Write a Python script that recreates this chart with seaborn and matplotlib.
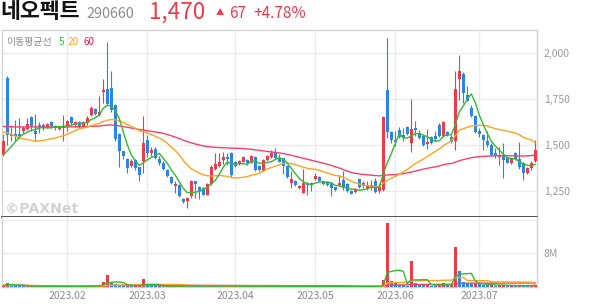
import numpy as np
import pandas as pd
import matplotlib
matplotlib.use("Agg")
import matplotlib.pyplot as plt
import seaborn as sns

# ---------------- data ----------------
stock_name = "네오펙트"
stock_code = "290660"
last_price = "1,470"
change_abs = "67"
change_pct = "+4.78%"

month_ticks = [16, 36, 58, 78, 98, 119]
month_labels = ["2023.02", "2023.03", "2023.04", "2023.05", "2023.06", "2023.07"]
price_ticks = [1250, 1500, 1750, 2000]
volume_ticks = [8, 16]
volume_tick_labels = ["8M", ""]
ma_windows = [5, 20, 60]

opens = [1446, 1862, 1558, 1556, 1560, 1573, 1587, 1651, 1573, 1609,
         1606, 1596, 1622, 1600, 1585, 1591, 1598, 1649, 1605, 1622,
         1595, 1618, 1660, 1694, 1660, 1785, 1800, 1810, 1715, 1560,
         1465, 1422, 1383, 1415, 1377, 1410, 1527, 1455, 1478, 1424,
         1402, 1365, 1325, 1275, 1280, 1205, 1196, 1220, 1301, 1269,
         1265, 1229, 1287, 1368, 1386, 1417, 1433, 1455, 1408, 1395,
         1408, 1417, 1402, 1435, 1384, 1359, 1417, 1435, 1453, 1426,
         1426, 1384, 1290, 1305, 1262, 1240, 1292, 1292, 1316, 1325,
         1301, 1298, 1292, 1269, 1283, 1310, 1287, 1247, 1245, 1314,
         1292, 1260, 1269, 1305, 1247, 1255, 1799, 1569, 1528, 1582,
         1555, 1595, 1510, 1591, 1564, 1546, 1504, 1540, 1546, 1609,
         1546, 1569, 1540, 1519, 1859, 1884, 1772, 1700, 1654, 1576,
         1555, 1519, 1500, 1455, 1432, 1446, 1428, 1401, 1453, 1420,
         1400, 1348, 1372, 1413]

highs = [1558, 1875, 1609, 1636, 1645, 1600, 1645, 1654, 1669, 1622,
         1618, 1618, 1631, 1609, 1600, 1660, 1636, 1654, 1631, 1627,
         1631, 1654, 1712, 1700, 1763, 1857, 2060, 1900, 1720, 1565,
         1468, 1425, 1420, 1420, 1380, 1654, 1550, 1485, 1485, 1440,
         1410, 1370, 1332, 1300, 1285, 1210, 1215, 1310, 1305, 1275,
         1270, 1290, 1388, 1455, 1455, 1462, 1455, 1460, 1412, 1415,
         1440, 1422, 1445, 1440, 1390, 1422, 1445, 1471, 1480, 1450,
         1430, 1388, 1356, 1310, 1280, 1370, 1295, 1296, 1347, 1330,
         1305, 1300, 1296, 1272, 1337, 1356, 1292, 1252, 1262, 1320,
         1300, 1300, 1310, 1318, 1290, 1655, 2080, 1575, 1573, 1595,
         1590, 1600, 1750, 1631, 1578, 1550, 1587, 1545, 1572, 1618,
         1630, 1575, 1555, 1902, 1989, 1895, 1820, 1715, 1660, 1590,
         1560, 1573, 1510, 1480, 1490, 1510, 1432, 1430, 1460, 1515,
         1405, 1380, 1410, 1525]

lows = [1437, 1500, 1522, 1519, 1533, 1564, 1582, 1573, 1519, 1564,
        1582, 1591, 1591, 1582, 1580, 1522, 1573, 1609, 1595, 1591,
        1591, 1609, 1654, 1660, 1654, 1727, 1715, 1680, 1520, 1376,
        1420, 1345, 1378, 1360, 1305, 1346, 1435, 1437, 1420, 1390,
        1360, 1325, 1285, 1240, 1218, 1183, 1157, 1211, 1211, 1207,
        1225, 1225, 1280, 1360, 1380, 1395, 1390, 1325, 1380, 1390,
        1405, 1392, 1398, 1358, 1355, 1355, 1412, 1430, 1420, 1405,
        1338, 1319, 1265, 1274, 1258, 1236, 1229, 1250, 1310, 1300,
        1280, 1275, 1220, 1250, 1278, 1255, 1245, 1230, 1240, 1265,
        1265, 1255, 1255, 1240, 1240, 1250, 1537, 1510, 1491, 1535,
        1520, 1550, 1461, 1546, 1530, 1495, 1479, 1505, 1520, 1540,
        1540, 1545, 1510, 1473, 1745, 1727, 1735, 1650, 1565, 1540,
        1473, 1490, 1440, 1430, 1390, 1319, 1398, 1395, 1418, 1370,
        1310, 1340, 1365, 1405]

closes = [1519, 1555, 1545, 1546, 1545, 1591, 1613, 1600, 1558, 1596,
          1591, 1613, 1600, 1591, 1594, 1600, 1627, 1618, 1624, 1596,
          1622, 1645, 1700, 1667, 1678, 1799, 1722, 1690, 1530, 1468,
          1436, 1373, 1413, 1375, 1337, 1509, 1456, 1473, 1428, 1400,
          1368, 1328, 1290, 1285, 1222, 1187, 1211, 1300, 1287, 1247,
          1229, 1287, 1377, 1395, 1404, 1431, 1420, 1335, 1384, 1410,
          1435, 1399, 1439, 1363, 1363, 1417, 1439, 1453, 1426, 1408,
          1384, 1326, 1315, 1283, 1274, 1292, 1280, 1283, 1328, 1305,
          1287, 1283, 1262, 1256, 1292, 1262, 1247, 1233, 1252, 1269,
          1274, 1274, 1279, 1242, 1269, 1650, 1569, 1528, 1515, 1540,
          1537, 1558, 1587, 1577, 1537, 1500, 1515, 1510, 1533, 1546,
          1622, 1551, 1515, 1803, 1902, 1781, 1739, 1654, 1569, 1558,
          1528, 1497, 1443, 1437, 1446, 1419, 1401, 1424, 1422, 1378,
          1348, 1372, 1403, 1470]

# closes of the sessions before the visible window (needed by the moving averages)
prior_closes = [1580, 1595, 1610, 1600, 1585, 1570, 1590, 1605, 1620, 1600,
                1585, 1575, 1590, 1600, 1615, 1605, 1590, 1580, 1595, 1600,
                1610, 1625, 1640, 1630, 1615, 1600, 1620, 1645, 1660, 1650,
                1635, 1620, 1610, 1630, 1650, 1665, 1655, 1640, 1630, 1620,
                1680, 1710, 1730, 1720, 1700, 1690, 1680, 1665,
                1560, 1540, 1525, 1510, 1500, 1480, 1475,
                1450, 1430, 1420, 1410]

# volume in millions of shares
volumes = [0.30, 0.95, 0.35, 0.30, 0.25, 0.20, 0.25, 0.20, 0.20, 0.15,
           0.15, 0.15, 0.20, 0.12, 0.10, 0.20, 0.15, 0.15, 0.12, 0.10,
           0.15, 0.25, 0.35, 0.20, 0.45, 1.20, 2.75, 0.95, 0.65, 0.50,
           0.35, 0.35, 0.30, 0.30, 0.30, 1.80, 0.45, 0.30, 0.25, 0.25,
           0.20, 0.20, 0.25, 0.20, 0.25, 0.25, 0.20, 0.30, 0.25, 0.20,
           0.15, 0.20, 0.35, 0.30, 0.25, 0.20, 0.20, 0.25, 0.15, 0.15,
           0.20, 0.15, 0.20, 0.20, 0.15, 0.15, 0.15, 0.20, 0.20, 0.15,
           0.15, 0.20, 0.15, 0.10, 0.10, 0.20, 0.10, 0.10, 0.12, 0.10,
           0.08, 0.08, 0.12, 0.08, 0.10, 0.15, 0.10, 0.08, 0.08, 0.15,
           0.10, 0.10, 0.10, 0.15, 0.12, 1.60, 15.30, 1.40, 1.20, 0.45,
           0.40, 0.35, 6.30, 0.90, 0.55, 0.45, 0.60, 0.35, 0.30, 0.50,
           0.95, 0.45, 0.50, 9.60, 3.90, 1.10, 0.90, 0.75, 0.85, 0.60,
           0.55, 0.50, 0.55, 0.35, 0.40, 0.50, 0.30, 0.30, 0.25, 0.40,
           0.35, 0.30, 0.40, 0.55]

# ---------------- style ----------------
RED = "#f2394a"
BLUE = "#2a86e6"
MA_COLORS = {5: "#33b833", 20: "#ffa41c", 60: "#f5406a"}
GRID = "#ececec"
FRAME = "#d4d4d4"

sns.set_theme(style="white")
plt.rcParams["font.family"] = ["Noto Sans CJK KR", "DejaVu Sans"]

W, H = 594, 304
fig = plt.figure(figsize=(W / 100, H / 100), dpi=100)


def fx(px):
    return px / W


def fy(py):
    return 1 - py / H


ax = fig.add_axes([fx(2), fy(217), fx(537) - fx(2), fy(30) - fy(217)])
axv = fig.add_axes([fx(2), fy(287), fx(537) - fx(2), fy(217) - fy(287)])

n = len(closes)
idx = np.arange(n)
o = np.array(opens, float)
c = np.array(closes, float)
h = np.array(highs, float)
lo = np.array(lows, float)
up = c >= o
cols = np.where(up, RED, BLUE)

# candles
ax.vlines(idx, lo, h, colors=cols, lw=0.8, zorder=2)
ax.bar(idx, np.maximum(np.abs(c - o), 4), bottom=np.minimum(o, c), width=0.74,
       color=cols, linewidth=0, zorder=3)

# price moving averages
all_c = pd.Series(prior_closes + closes, dtype=float)
k0 = len(prior_closes)
ma_df = pd.DataFrame({"idx": idx})
for w in ma_windows:
    ma_df[f"ma{w}"] = all_c.rolling(w, min_periods=1).mean().iloc[k0:].to_numpy()
for w in [60, 20, 5]:
    sns.lineplot(data=ma_df, x="idx", y=f"ma{w}", ax=ax, color=MA_COLORS[w],
                 lw=1.0, zorder=4)

# volume
v = np.array(volumes, float)
vcols = [RED] + [RED if v[i] >= v[i - 1] else BLUE for i in range(1, n)]
axv.bar(idx, v, width=0.74, color=vcols, linewidth=0, zorder=3)
vs = pd.Series(v)
vdf = pd.DataFrame({"idx": idx})
for w in ma_windows:
    vdf[f"vma{w}"] = vs.rolling(w, min_periods=1).mean().to_numpy()
for w in [60, 20, 5]:
    sns.lineplot(data=vdf, x="idx", y=f"vma{w}", ax=axv, color=MA_COLORS[w],
                 lw=1.0, zorder=4)

# axes cosmetics
xlim = (-0.33, 133.43)
for a in (ax, axv):
    a.set_xlim(*xlim)
    a.set_xlabel("")
    a.set_ylabel("")
    a.set_xticks(month_ticks)
    a.grid(True, color=GRID, lw=1.0, zorder=0)
    a.set_axisbelow(True)
    a.yaxis.tick_right()
    a.tick_params(length=0, labelsize=7.5, labelcolor="#9a9a9a", pad=5)
    for s in a.spines.values():
        s.set_color(FRAME)
        s.set_linewidth(1.0)

ax.set_ylim(1107, 2123)
ax.set_yticks(price_ticks)
ax.set_yticklabels([f"{p:,}" for p in price_ticks])
ax.set_xticklabels([])
ax.spines["bottom"].set_color("#444444")
ax.spines["bottom"].set_linewidth(1.3)
ax.spines["bottom"].set_zorder(6)

axv.set_ylim(0, 16.7)
axv.set_yticks(volume_ticks)
axv.set_yticklabels(volume_tick_labels)
axv.set_xticklabels(month_labels)
axv.tick_params(axis="x", pad=3, labelcolor="#8a8a8a")
axv.spines["top"].set_visible(False)

# texts
fig.text(fx(0), fy(18.5), stock_name, fontsize=15.6, fontweight="bold",
         color="#111111", va="baseline")
fig.text(fx(86), fy(18), stock_code, fontsize=10.3, color="#8c8c8c", va="baseline")
fig.text(fx(149), fy(18.5), last_price, fontsize=16.2, color=RED, va="baseline")
fig.text(fx(216), fy(15), "▲", fontsize=6, color=RED, va="baseline")
fig.text(fx(229), fy(18), change_abs, fontsize=11, color=RED, va="baseline")
fig.text(fx(253), fy(18), change_pct, fontsize=11, color=RED, va="baseline")

fig.text(fx(6), fy(45), "이동평균선", fontsize=7.1, color="#8c8c8c", va="baseline")
fig.text(fx(59), fy(45), "5", fontsize=7.2, color=MA_COLORS[5], va="baseline",
         fontweight="medium")
fig.text(fx(68), fy(45), "20", fontsize=7.2, color=MA_COLORS[20], va="baseline",
         fontweight="medium")
fig.text(fx(83), fy(45), "60", fontsize=7.2, color="#e8185a", va="baseline",
         fontweight="medium")

fig.text(fx(5), fy(213), "©PAXNet", fontsize=10.2, fontweight="bold",
         color="#d3d3d3", va="baseline", family=["DejaVu Sans"])

fig.savefig("out.png", dpi=100)
